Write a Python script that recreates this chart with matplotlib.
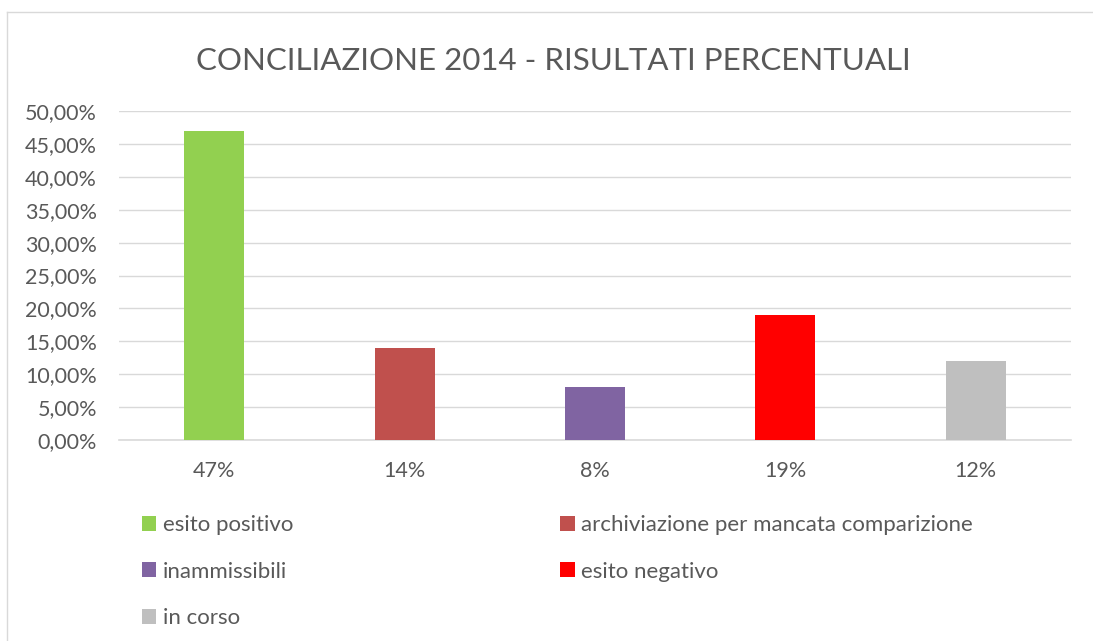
import numpy as np
import matplotlib
matplotlib.use("Agg")
import matplotlib.pyplot as plt
from matplotlib.lines import Line2D
from matplotlib.ticker import FuncFormatter

plt.rcParams['font.family'] = ['Lato', 'DejaVu Sans']

# dati
categorie = ["esito positivo", "archiviazione per mancata comparizione",
             "inammissibili", "esito negativo", "in corso"]
valori = [0.47, 0.14, 0.08, 0.19, 0.12]
etichette = ["47%", "14%", "8%", "19%", "12%"]
colori = ["#92d050", "#c0504d", "#8064a2", "#ff0000", "#bfbfbf"]

testo = "#595959"
griglia = "#d9d9d9"

fig = plt.figure(figsize=(10.93, 6.41), dpi=100)
ax = fig.add_axes([0.1089, 0.3136, 0.8710, 0.5132])

x = np.arange(len(valori))
barre = ax.bar(x, valori, width=0.315, color=colori, zorder=3)

ax.set_xlim(-0.5, len(valori) - 0.5)
ax.set_ylim(0, 0.5)
ax.set_yticks(np.arange(0, 0.501, 0.05))
ax.yaxis.set_major_formatter(FuncFormatter(lambda v, p: f"{v*100:.2f}%".replace(".", ",")))
ax.set_xticks(x)
ax.set_xticklabels(etichette)
ax.tick_params(axis='both', length=0, colors=testo, labelsize=15.5)
ax.tick_params(axis='x', pad=15)
ax.tick_params(axis='y', pad=16)
ax.grid(axis='y', color=griglia, linewidth=1.0, zorder=0)
for s in ['top', 'right', 'left']:
    ax.spines[s].set_visible(False)
ax.spines['bottom'].set_color(griglia)
ax.spines['bottom'].set_linewidth(1.2)

fig.text(0.506, 0.905, "CONCILIAZIONE 2014 - RISULTATI PERCENTUALI",
         ha='center', va='center', fontsize=22.5, color=testo)

# legenda: ordine per righe con 2 colonne
ordine = [0, 2, 4, 1, 3]
leg = fig.legend([barre[i] for i in ordine], [categorie[i] for i in ordine],
                 ncol=2, loc='upper left', bbox_to_anchor=(142 / 1093, 1 - 515 / 641),
                 frameon=False, fontsize=16, handlelength=0.65, handleheight=0.65,
                 handletextpad=0.3, labelspacing=1.2, columnspacing=12.0,
                 borderpad=0, borderaxespad=0)
for t in leg.get_texts():
    t.set_color(testo)

# bordo del grafico
fig.add_artist(Line2D([7 / 1093, 1.0], [1 - 12 / 641] * 2, color=griglia, linewidth=1.0))
fig.add_artist(Line2D([7 / 1093] * 2, [0, 1 - 12 / 641], color=griglia, linewidth=1.0))

fig.savefig("out.png", dpi=100)
